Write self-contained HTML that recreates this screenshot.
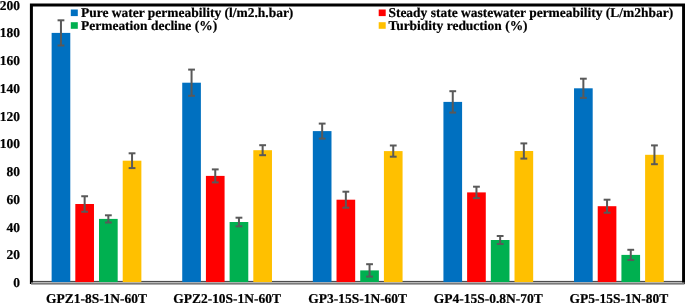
<!DOCTYPE html>
<html><head><meta charset="utf-8"><style>
html,body{margin:0;padding:0;background:#fff;}
svg{display:block;will-change:transform;}
text{text-rendering:geometricPrecision;font-family:"Liberation Serif",serif;font-weight:bold;font-size:13.47px;fill:#000;stroke:#000;stroke-width:0.2px;}
</style></head><body>
<svg width="685" height="303" viewBox="0 0 685 303">
<rect width="685" height="303" fill="#fff"/>
<rect x="31" y="280.9" width="653.5" height="1.3" fill="#4d4d4d"/>
<rect x="51.63" y="32.90" width="18.66" height="249.30" fill="#0070C0"/>
<rect x="75.32" y="204.00" width="18.66" height="78.20" fill="#FF0000"/>
<rect x="99.02" y="218.90" width="18.66" height="63.30" fill="#00B050"/>
<rect x="122.71" y="160.70" width="18.66" height="121.50" fill="#FFC000"/>
<rect x="182.23" y="82.70" width="18.66" height="199.50" fill="#0070C0"/>
<rect x="205.92" y="175.90" width="18.66" height="106.30" fill="#FF0000"/>
<rect x="229.62" y="222.00" width="18.66" height="60.20" fill="#00B050"/>
<rect x="253.31" y="150.20" width="18.66" height="132.00" fill="#FFC000"/>
<rect x="312.83" y="131.10" width="18.66" height="151.10" fill="#0070C0"/>
<rect x="336.52" y="199.70" width="18.66" height="82.50" fill="#FF0000"/>
<rect x="360.22" y="270.40" width="18.66" height="11.80" fill="#00B050"/>
<rect x="383.91" y="151.10" width="18.66" height="131.10" fill="#FFC000"/>
<rect x="443.43" y="101.90" width="18.66" height="180.30" fill="#0070C0"/>
<rect x="467.12" y="192.40" width="18.66" height="89.80" fill="#FF0000"/>
<rect x="490.82" y="240.00" width="18.66" height="42.20" fill="#00B050"/>
<rect x="514.51" y="151.00" width="18.66" height="131.20" fill="#FFC000"/>
<rect x="574.03" y="88.30" width="18.66" height="193.90" fill="#0070C0"/>
<rect x="597.72" y="206.20" width="18.66" height="76.00" fill="#FF0000"/>
<rect x="621.42" y="254.90" width="18.66" height="27.30" fill="#00B050"/>
<rect x="645.11" y="154.80" width="18.66" height="127.40" fill="#FFC000"/>
<line x1="60.96" y1="20.30" x2="60.96" y2="45.50" stroke="#595959" stroke-width="2"/>
<line x1="57.56" y1="20.30" x2="64.36" y2="20.30" stroke="#595959" stroke-width="2"/>
<line x1="57.56" y1="45.50" x2="64.36" y2="45.50" stroke="#595959" stroke-width="2"/>
<line x1="84.65" y1="196.25" x2="84.65" y2="211.75" stroke="#595959" stroke-width="2"/>
<line x1="81.25" y1="196.25" x2="88.05" y2="196.25" stroke="#595959" stroke-width="2"/>
<line x1="81.25" y1="211.75" x2="88.05" y2="211.75" stroke="#595959" stroke-width="2"/>
<line x1="108.35" y1="215.30" x2="108.35" y2="222.50" stroke="#595959" stroke-width="2"/>
<line x1="104.95" y1="215.30" x2="111.75" y2="215.30" stroke="#595959" stroke-width="2"/>
<line x1="104.95" y1="222.50" x2="111.75" y2="222.50" stroke="#595959" stroke-width="2"/>
<line x1="132.04" y1="153.30" x2="132.04" y2="168.10" stroke="#595959" stroke-width="2"/>
<line x1="128.64" y1="153.30" x2="135.44" y2="153.30" stroke="#595959" stroke-width="2"/>
<line x1="128.64" y1="168.10" x2="135.44" y2="168.10" stroke="#595959" stroke-width="2"/>
<line x1="191.56" y1="69.60" x2="191.56" y2="95.80" stroke="#595959" stroke-width="2"/>
<line x1="188.16" y1="69.60" x2="194.96" y2="69.60" stroke="#595959" stroke-width="2"/>
<line x1="188.16" y1="95.80" x2="194.96" y2="95.80" stroke="#595959" stroke-width="2"/>
<line x1="215.25" y1="169.40" x2="215.25" y2="182.40" stroke="#595959" stroke-width="2"/>
<line x1="211.85" y1="169.40" x2="218.65" y2="169.40" stroke="#595959" stroke-width="2"/>
<line x1="211.85" y1="182.40" x2="218.65" y2="182.40" stroke="#595959" stroke-width="2"/>
<line x1="238.95" y1="217.70" x2="238.95" y2="226.30" stroke="#595959" stroke-width="2"/>
<line x1="235.55" y1="217.70" x2="242.35" y2="217.70" stroke="#595959" stroke-width="2"/>
<line x1="235.55" y1="226.30" x2="242.35" y2="226.30" stroke="#595959" stroke-width="2"/>
<line x1="262.64" y1="145.20" x2="262.64" y2="155.20" stroke="#595959" stroke-width="2"/>
<line x1="259.24" y1="145.20" x2="266.04" y2="145.20" stroke="#595959" stroke-width="2"/>
<line x1="259.24" y1="155.20" x2="266.04" y2="155.20" stroke="#595959" stroke-width="2"/>
<line x1="322.16" y1="123.60" x2="322.16" y2="138.60" stroke="#595959" stroke-width="2"/>
<line x1="318.76" y1="123.60" x2="325.56" y2="123.60" stroke="#595959" stroke-width="2"/>
<line x1="318.76" y1="138.60" x2="325.56" y2="138.60" stroke="#595959" stroke-width="2"/>
<line x1="345.85" y1="191.70" x2="345.85" y2="207.70" stroke="#595959" stroke-width="2"/>
<line x1="342.45" y1="191.70" x2="349.25" y2="191.70" stroke="#595959" stroke-width="2"/>
<line x1="342.45" y1="207.70" x2="349.25" y2="207.70" stroke="#595959" stroke-width="2"/>
<line x1="369.55" y1="264.20" x2="369.55" y2="276.60" stroke="#595959" stroke-width="2"/>
<line x1="366.15" y1="264.20" x2="372.95" y2="264.20" stroke="#595959" stroke-width="2"/>
<line x1="366.15" y1="276.60" x2="372.95" y2="276.60" stroke="#595959" stroke-width="2"/>
<line x1="393.24" y1="145.50" x2="393.24" y2="156.70" stroke="#595959" stroke-width="2"/>
<line x1="389.84" y1="145.50" x2="396.64" y2="145.50" stroke="#595959" stroke-width="2"/>
<line x1="389.84" y1="156.70" x2="396.64" y2="156.70" stroke="#595959" stroke-width="2"/>
<line x1="452.76" y1="91.20" x2="452.76" y2="112.60" stroke="#595959" stroke-width="2"/>
<line x1="449.36" y1="91.20" x2="456.16" y2="91.20" stroke="#595959" stroke-width="2"/>
<line x1="449.36" y1="112.60" x2="456.16" y2="112.60" stroke="#595959" stroke-width="2"/>
<line x1="476.45" y1="186.70" x2="476.45" y2="198.10" stroke="#595959" stroke-width="2"/>
<line x1="473.05" y1="186.70" x2="479.85" y2="186.70" stroke="#595959" stroke-width="2"/>
<line x1="473.05" y1="198.10" x2="479.85" y2="198.10" stroke="#595959" stroke-width="2"/>
<line x1="500.15" y1="236.00" x2="500.15" y2="244.00" stroke="#595959" stroke-width="2"/>
<line x1="496.75" y1="236.00" x2="503.55" y2="236.00" stroke="#595959" stroke-width="2"/>
<line x1="496.75" y1="244.00" x2="503.55" y2="244.00" stroke="#595959" stroke-width="2"/>
<line x1="523.84" y1="143.40" x2="523.84" y2="158.60" stroke="#595959" stroke-width="2"/>
<line x1="520.44" y1="143.40" x2="527.24" y2="143.40" stroke="#595959" stroke-width="2"/>
<line x1="520.44" y1="158.60" x2="527.24" y2="158.60" stroke="#595959" stroke-width="2"/>
<line x1="583.36" y1="78.70" x2="583.36" y2="97.90" stroke="#595959" stroke-width="2"/>
<line x1="579.96" y1="78.70" x2="586.76" y2="78.70" stroke="#595959" stroke-width="2"/>
<line x1="579.96" y1="97.90" x2="586.76" y2="97.90" stroke="#595959" stroke-width="2"/>
<line x1="607.05" y1="199.70" x2="607.05" y2="212.70" stroke="#595959" stroke-width="2"/>
<line x1="603.65" y1="199.70" x2="610.45" y2="199.70" stroke="#595959" stroke-width="2"/>
<line x1="603.65" y1="212.70" x2="610.45" y2="212.70" stroke="#595959" stroke-width="2"/>
<line x1="630.75" y1="249.80" x2="630.75" y2="260.00" stroke="#595959" stroke-width="2"/>
<line x1="627.35" y1="249.80" x2="634.15" y2="249.80" stroke="#595959" stroke-width="2"/>
<line x1="627.35" y1="260.00" x2="634.15" y2="260.00" stroke="#595959" stroke-width="2"/>
<line x1="654.44" y1="145.40" x2="654.44" y2="164.20" stroke="#595959" stroke-width="2"/>
<line x1="651.04" y1="145.40" x2="657.84" y2="145.40" stroke="#595959" stroke-width="2"/>
<line x1="651.04" y1="164.20" x2="657.84" y2="164.20" stroke="#595959" stroke-width="2"/>
<path d="M31.4 284 V5.05 H683.6 V284" fill="none" stroke="#000" stroke-width="3"/>
<rect x="31" y="282.2" width="653.5" height="0.5" fill="#fff" fill-opacity="0.6"/>
<rect x="31" y="282.6" width="653.5" height="2.0" fill="#7a7a7a"/>
<text transform="translate(19.90,287.10) scale(1,1.0)" text-anchor="end">0</text>
<text transform="translate(19.90,259.34) scale(1,1.0)" text-anchor="end">20</text>
<text transform="translate(19.90,231.59) scale(1,1.0)" text-anchor="end">40</text>
<text transform="translate(19.90,203.83) scale(1,1.0)" text-anchor="end">60</text>
<text transform="translate(19.90,176.08) scale(1,1.0)" text-anchor="end">80</text>
<text transform="translate(19.90,148.32) scale(1,1.0)" text-anchor="end">100</text>
<text transform="translate(19.90,120.56) scale(1,1.0)" text-anchor="end">120</text>
<text transform="translate(19.90,92.81) scale(1,1.0)" text-anchor="end">140</text>
<text transform="translate(19.90,65.05) scale(1,1.0)" text-anchor="end">160</text>
<text transform="translate(19.90,37.30) scale(1,1.0)" text-anchor="end">180</text>
<text transform="translate(19.90,9.54) scale(1,1.0)" text-anchor="end">200</text>
<text transform="translate(96.50,303.00) scale(1,1.0)" text-anchor="middle">GPZ1-8S-1N-60T</text>
<text transform="translate(227.10,303.00) scale(1,1.0)" text-anchor="middle">GPZ2-10S-1N-60T</text>
<text transform="translate(357.70,303.00) scale(1,1.0)" text-anchor="middle">GP3-15S-1N-60T</text>
<text transform="translate(488.30,303.00) scale(1,1.0)" text-anchor="middle">GP4-15S-0.8N-70T</text>
<text transform="translate(618.90,303.00) scale(1,1.0)" text-anchor="middle">GP5-15S-1N-80T</text>
<rect x="70.8" y="9.5" width="7" height="6.6" fill="#0070C0"/>
<text transform="translate(81.00,17.00) scale(1,1.0)">Pure water permeability (l/m2.h.bar)</text>
<rect x="70.8" y="22.2" width="7" height="6.6" fill="#00B050"/>
<text transform="translate(81.00,30.00) scale(1,1.0)">Permeation decline (%)</text>
<rect x="378.7" y="9.5" width="7" height="6.6" fill="#FF0000"/>
<text transform="translate(388.40,17.00) scale(1,1.0)">Steady state wastewater permeability (L/m2hbar)</text>
<rect x="378.7" y="22.2" width="7" height="6.6" fill="#FFC000"/>
<text transform="translate(388.40,30.00) scale(1,1.0)">Turbidity reduction (%)</text>
</svg>
</body></html>
